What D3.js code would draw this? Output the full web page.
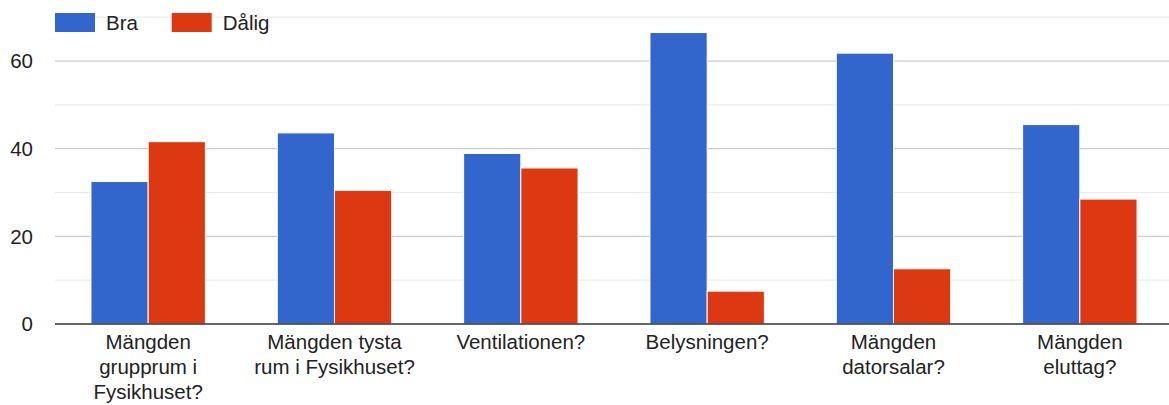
<!DOCTYPE html>
<html>
<head>
<meta charset="utf-8">
<script src="https://cdn.jsdelivr.net/npm/d3@7"></script>
<style>
  body { margin: 0; background: #fff; }
  text { font-family: Arial, "Liberation Sans", sans-serif; fill: #222; }
</style>
</head>
<body>
<svg width="1169" height="405"></svg>
<script>
// data
let categories = [
  ['Mängden', 'grupprum i', 'Fysikhuset?'],
  ['Mängden tysta', 'rum i Fysikhuset?'],
  ['Ventilationen?'],
  ['Belysningen?'],
  ['Mängden', 'datorsalar?'],
  ['Mängden', 'eluttag?'],
];
let seriesNames = ['Bra', 'Dålig'];
let bra = [32.5, 43.6, 38.9, 66.5, 61.8, 45.5];
let dalig = [41.6, 30.5, 35.6, 7.5, 12.6, 28.5];
let yTicks = [0, 20, 40, 60];
let yMinor = [10, 30, 50, 70];

let colors = ['#3366cc', '#dc3912'];

let svg = d3.select('svg'),
  width = +svg.attr('width'),
  height = +svg.attr('height');

let plotLeft = 55, plotRight = 1173, plotTop = 17.2, plotBottom = 324;
let fontSize = '20.5px';

let rows = categories.map((c, i) => ({ label: c, values: [bra[i], dalig[i]] }));

let x0 = d3.scaleBand()
  .domain(d3.range(categories.length))
  .range([plotLeft, plotRight])
  .paddingInner(0.386)
  .paddingOuter(0.193);

let x1 = d3.scaleBand()
  .domain(d3.range(seriesNames.length))
  .range([0, x0.bandwidth()]);

let y = d3.scaleLinear()
  .domain([0, 70])
  .range([plotBottom, plotTop]);

// gridlines
svg.append('g')
  .selectAll('line')
  .data(yMinor)
  .enter()
  .append('line')
  .attr('x1', plotLeft)
  .attr('x2', width)
  .attr('y1', d => y(d))
  .attr('y2', d => y(d))
  .attr('stroke', '#ebebeb')
  .attr('stroke-width', 1.2);

svg.append('g')
  .selectAll('line')
  .data(yTicks.filter(d => d > 0))
  .enter()
  .append('line')
  .attr('x1', plotLeft)
  .attr('x2', width)
  .attr('y1', d => y(d))
  .attr('y2', d => y(d))
  .attr('stroke', '#cccccc')
  .attr('stroke-width', 1.2);

// y labels
svg.append('g')
  .selectAll('text')
  .data(yTicks)
  .enter()
  .append('text')
  .attr('x', 33)
  .attr('y', d => y(d))
  .attr('dy', '0.35em')
  .attr('text-anchor', 'end')
  .style('font-size', fontSize)
  .text(d => d);

// bars
let groups = svg.append('g')
  .selectAll('g')
  .data(rows)
  .enter()
  .append('g')
  .attr('transform', (d, i) => `translate(${x0(i)},0)`);

groups.selectAll('rect')
  .data(d => d.values)
  .enter()
  .append('rect')
  .attr('x', (d, j) => x1(j))
  .attr('width', x1.bandwidth())
  .attr('y', d => y(d))
  .attr('height', d => y(0) - y(d))
  .attr('fill', (d, j) => colors[j])
  .attr('stroke', '#fff')
  .attr('stroke-width', 1);

// baseline
svg.append('line')
  .attr('x1', plotLeft)
  .attr('x2', width)
  .attr('y1', y(0))
  .attr('y2', y(0))
  .attr('stroke', '#333')
  .attr('stroke-width', 1.5);

// category labels
let labels = svg.append('g')
  .selectAll('text')
  .data(rows)
  .enter()
  .append('text')
  .attr('text-anchor', 'middle')
  .attr('x', (d, i) => x0(i) + x0.bandwidth() / 2)
  .attr('y', 348.5)
  .style('font-size', fontSize);

labels.selectAll('tspan')
  .data(d => d.label)
  .enter()
  .append('tspan')
  .attr('x', function () { return d3.select(this.parentNode).attr('x'); })
  .attr('dy', (d, k) => k === 0 ? 0 : 25)
  .text(d => d);

// legend
let legend = svg.append('g')
  .selectAll('g')
  .data(seriesNames)
  .enter()
  .append('g')
  .attr('transform', (d, i) => `translate(${55 + i * 116.7},13)`);

legend.append('rect')
  .attr('width', 40)
  .attr('height', 19)
  .attr('fill', (d, i) => colors[i]);

legend.append('text')
  .attr('x', 51)
  .attr('y', 16.5)
  .style('font-size', fontSize)
  .text(d => d);
</script>
</body>
</html>
